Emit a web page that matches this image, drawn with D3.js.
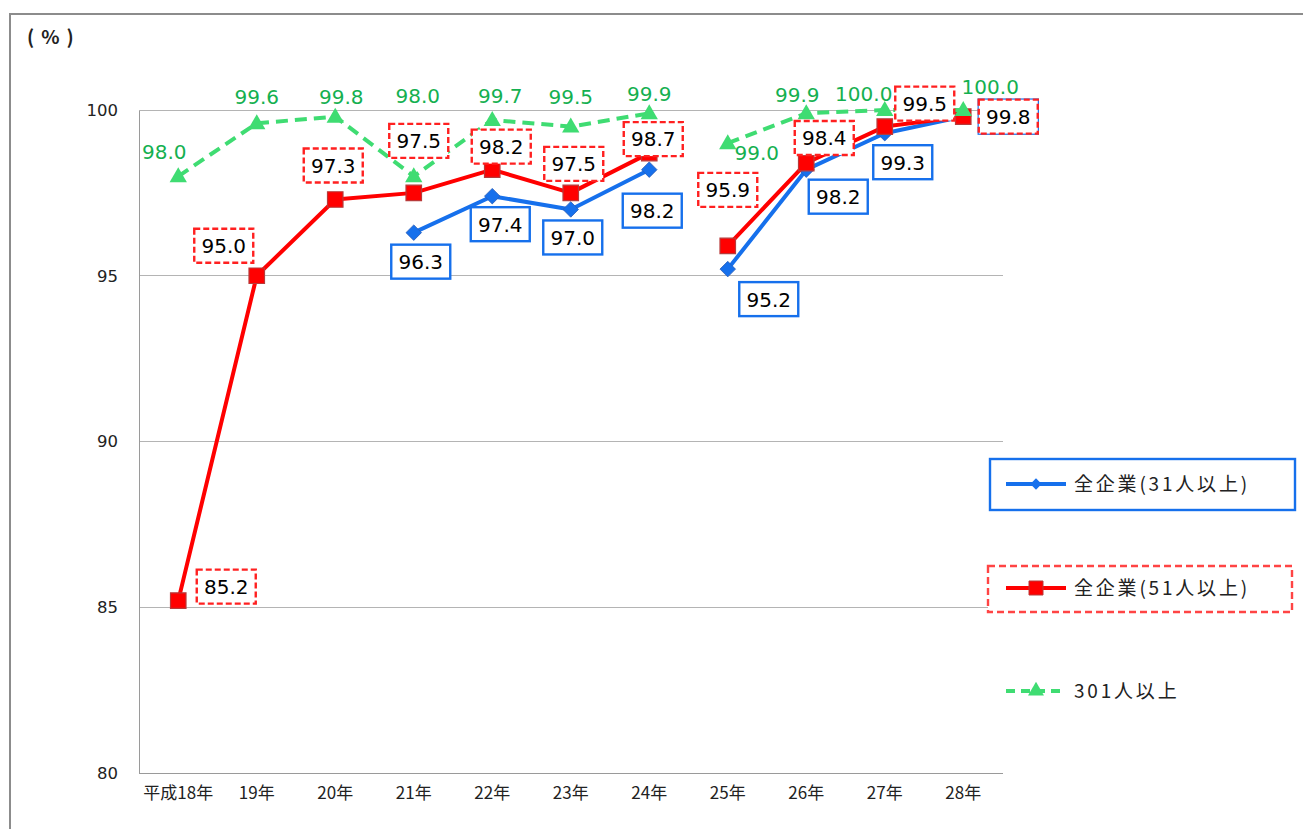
<!DOCTYPE html>
<html><head><meta charset="utf-8">
<script src="https://cdn.jsdelivr.net/npm/d3@7"></script>
<style>
html,body{margin:0;padding:0;background:#fff;}
svg{display:block;}
</style></head>
<body>
<svg id="chart" width="1303" height="829"></svg>
<script>
// ---- data ----
const categories = ["平成18年","19年","20年","21年","22年","23年","24年","25年","26年","27年","28年"];
const all31 = [null,null,null,96.3,97.4,97.0,98.2,95.2,98.2,99.3,99.8];
const all51 = [85.2,95.0,97.3,97.5,98.2,97.5,98.7,95.9,98.4,99.5,99.8];
const over301 = [98.0,99.6,99.8,98.0,99.7,99.5,99.9,99.0,99.9,100.0,100.0];
const segments = [[0,6],[7,10]]; // survey series break between 24年 and 25年
const yTicks = [80,85,90,95,100];
const seriesNames = ["全企業(31人以上)","全企業(51人以上)","301人以上"];

// ---- label layout (offsets of label centres from points) ----
const off31 = [null,null,null,[7,29],[8,28],[2,28],[3,41],[41,30],[32,27],[18,29],[45,0]];
const off51 = [[48,-14],[-33,-30],[-2,-34],[5,-52],[9,-23],[3,-29],[4,-14],[0,-56],[18,-25],[40,-23],[45,0]];
const off301 = [[-14,-25],[0,-27],[6,-20],[4,-81],[8,-24],[0,-30],[0,-20],[29,9],[-9,-19],[-21,-16],[27,-23]];

const svg = d3.select("#chart");
const C = {blue:"#1670ec", red:"#ff0000", green:"#3fdc72", greenText:"#14b050", grid:"#b4b4b4", axis:"#9a9a9a"};

// outer frame
svg.append("rect").attr("x",10).attr("y",14).attr("width",1310).attr("height",830)
  .attr("fill","none").attr("stroke","#8c8c8c").attr("stroke-width",2);

const x = d3.scaleBand().domain(categories).range([139,1002.5]).padding(0);
const y = d3.scaleLinear().domain([80,100]).range([773,110]);
const cx = i => x(categories[i]) + x.bandwidth()/2;

// gridlines
svg.append("g").selectAll("line").data(yTicks.filter(t=>t>80)).join("line")
  .attr("x1",139).attr("x2",1002.5).attr("y1",d=>y(d)).attr("y2",d=>y(d))
  .attr("stroke",C.grid).attr("stroke-width",1).attr("shape-rendering","crispEdges");

// axes
const yAxis = d3.axisLeft(y).tickValues(yTicks).tickSize(0).tickPadding(21).tickFormat(d3.format("d"));
const gy = svg.append("g").attr("transform","translate(139,0)").call(yAxis);
gy.select(".domain").attr("stroke",C.axis).attr("shape-rendering","crispEdges");
gy.selectAll("text").attr("font-family","'DejaVu Sans', Verdana, sans-serif").attr("font-size",16.5).attr("fill","#222");

const xAxis = d3.axisBottom(x).tickSize(0).tickPadding(14);
const gx = svg.append("g").attr("transform","translate(0,773)").call(xAxis);
gx.select(".domain").attr("stroke",C.axis).attr("shape-rendering","crispEdges");
gx.selectAll("text").attr("font-family","'Noto Sans CJK JP', sans-serif").attr("font-size",17).attr("fill","#222");

svg.append("text").attr("x",27).attr("y",44).text("(%)")
  .attr("font-family","'Noto Sans CJK JP', sans-serif").attr("font-size",19).attr("font-weight","bold")
  .attr("letter-spacing","7px").attr("fill","#222");

// lines
function drawSeries(vals, color, width, dash){
  const line = d3.line().defined(d=>d.v!=null).x(d=>cx(d.i)).y(d=>y(d.v));
  segments.forEach(([a,b])=>{
    const pts = d3.range(a,b+1).map(i=>({i, v: vals[i]}));
    svg.append("path").datum(pts).attr("d",line).attr("fill","none")
      .attr("stroke",color).attr("stroke-width",width).attr("stroke-linejoin","round")
      .attr("stroke-dasharray",dash||null);
  });
}
const diamond = d3.symbol().type(d3.symbolSquare).size(120);
const square = d3.symbol().type(d3.symbolSquare).size(240);
const tri = d3.symbol().type(d3.symbolTriangle).size(130);

drawSeries(all31, C.blue, 4);
svg.append("g").selectAll("path").data(all31.map((v,i)=>({v,i})).filter(d=>d.v!=null)).join("path")
  .attr("d",diamond).attr("transform",d=>`translate(${cx(d.i)},${y(d.v)}) rotate(45)`)
  .attr("fill",C.blue).attr("stroke","#2a5fb8").attr("stroke-width",0.8);

drawSeries(all51, C.red, 4);
svg.append("g").selectAll("path").data(all51.map((v,i)=>({v,i}))).join("path")
  .attr("d",square).attr("transform",d=>`translate(${cx(d.i)},${y(d.v)})`)
  .attr("fill",C.red).attr("stroke","#b83a3a").attr("stroke-width",1.2);

drawSeries(over301, C.green, 4, "12,7");
svg.append("g").selectAll("path").data(over301.map((v,i)=>({v,i}))).join("path")
  .attr("d",tri).attr("transform",d=>`translate(${cx(d.i)},${y(d.v)+1})`)
  .attr("fill",C.green);

// labels
const fmt = d3.format(".1f");
const lblFont = "'DejaVu Sans', Verdana, sans-serif";
function boxLabels(vals, offs, stroke, dash){
  const g = svg.append("g");
  vals.forEach((v,i)=>{
    if(v==null) return;
    const px = cx(i)+offs[i][0], py = y(v)+offs[i][1];
    g.append("rect").attr("x",px-29.5).attr("y",py-17).attr("width",59).attr("height",34)
      .attr("fill","#fff").attr("stroke",stroke).attr("stroke-width",2.4).attr("stroke-dasharray",dash||null);
    g.append("text").attr("x",px).attr("y",py).attr("dy","0.37em").attr("text-anchor","middle")
      .attr("font-family",lblFont).attr("font-size",20).attr("fill","#000").text(fmt(v));
  });
}
boxLabels(all31, off31, C.blue);
boxLabels(all51, off51, "#ff2020", "6,3");
svg.append("g").selectAll("text").data(over301.map((v,i)=>({v,i}))).join("text")
  .attr("x",d=>cx(d.i)+off301[d.i][0]).attr("y",d=>y(d.v)+off301[d.i][1]).attr("dy","0.37em")
  .attr("text-anchor","middle").attr("font-family",lblFont).attr("font-size",20)
  .attr("fill",C.greenText).text(d=>fmt(d.v));

// legend
const lg = svg.append("g");
const legFont = "'Noto Sans CJK JP', sans-serif";
const legItems = [
  {name:seriesNames[0], y:484, color:C.blue, box:[990,459,305,51], boxStroke:C.blue, boxDash:null, sym:"d"},
  {name:seriesNames[1], y:588, color:C.red, box:[988,566,304,46], boxStroke:"#ff4444", boxDash:"7,4", sym:"s"},
  {name:seriesNames[2], y:691, color:C.green, box:null, sym:"t", dash:"9,6"}
];
legItems.forEach(it=>{
  if(it.box) lg.append("rect").attr("x",it.box[0]).attr("y",it.box[1]).attr("width",it.box[2]).attr("height",it.box[3])
    .attr("fill","#fff").attr("stroke",it.boxStroke).attr("stroke-width",2.4).attr("stroke-dasharray",it.boxDash);
  lg.append("line").attr("x1",1006).attr("x2",1066).attr("y1",it.y).attr("y2",it.y)
    .attr("stroke",it.color).attr("stroke-width",4).attr("stroke-dasharray",it.dash||null);
  if(it.sym==="d") lg.append("path").attr("d",d3.symbol().type(d3.symbolSquare).size(64)).attr("transform",`translate(1036,${it.y}) rotate(45)`).attr("fill",it.color);
  if(it.sym==="s") lg.append("path").attr("d",d3.symbol().type(d3.symbolSquare).size(196)).attr("transform",`translate(1036,${it.y})`).attr("fill",it.color).attr("stroke","#b83a3a");
  if(it.sym==="t") lg.append("path").attr("d",d3.symbol().type(d3.symbolTriangle).size(110)).attr("transform",`translate(1036,${it.y})`).attr("fill",it.color);
  lg.append("text").attr("x",1074).attr("y",it.y).attr("dy","0.36em").attr("font-family",legFont)
    .attr("font-size",19).attr("letter-spacing","2.8px").attr("fill","#222").text(it.name);
});
</script>
</body></html>
